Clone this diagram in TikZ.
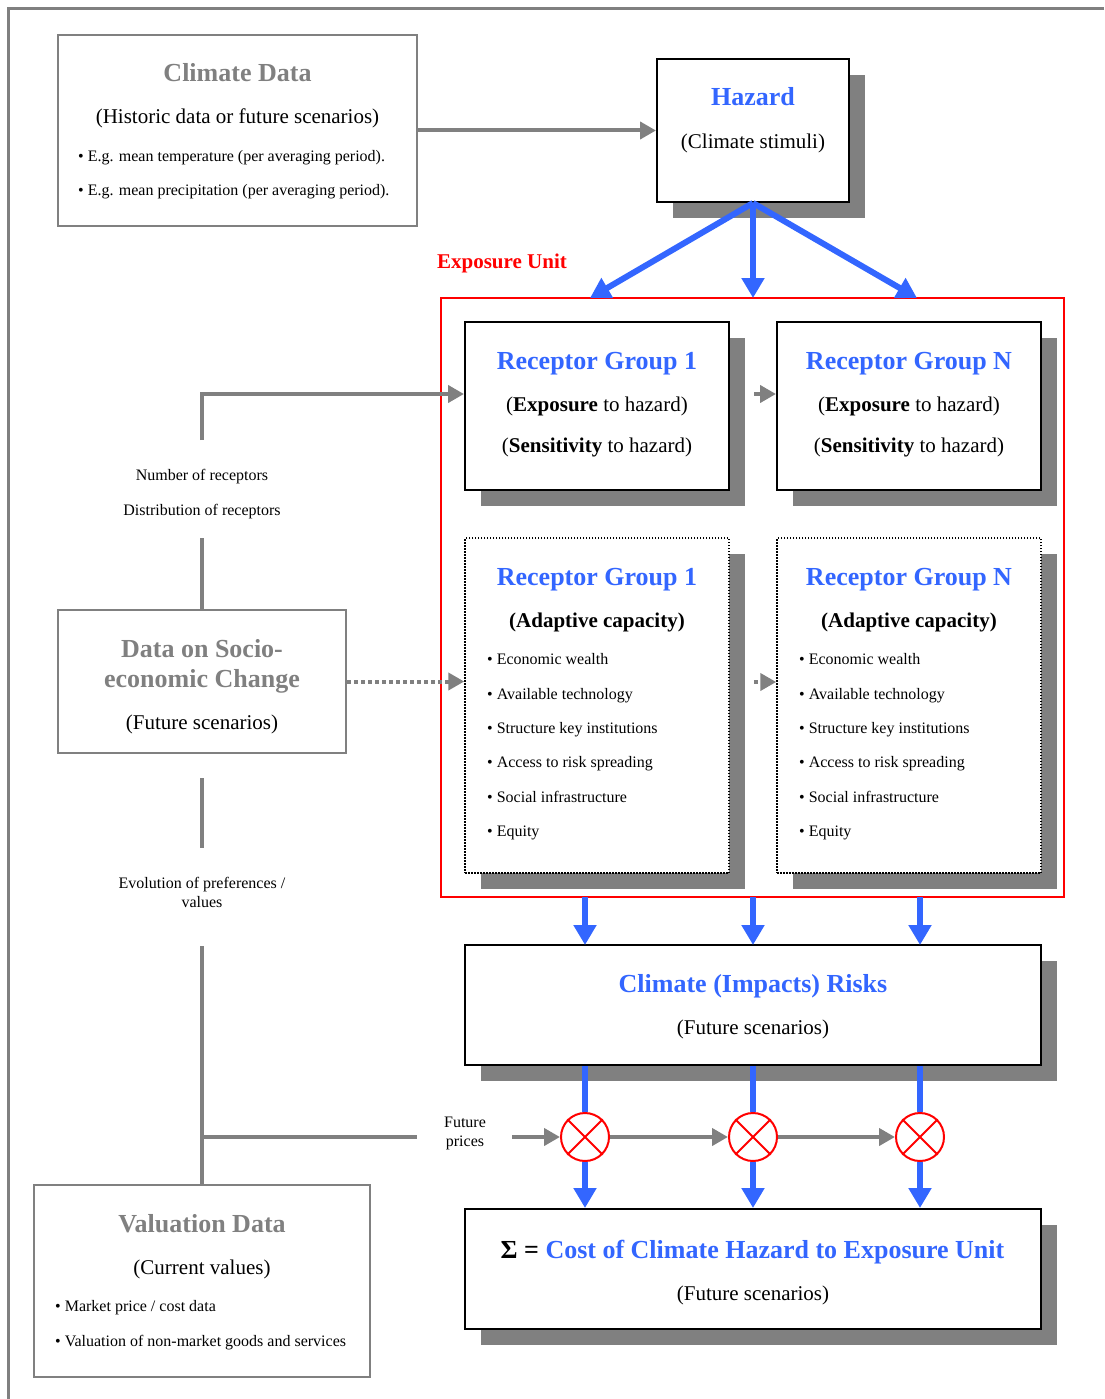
\documentclass[tikz,border=0pt]{standalone}
\usepackage{fontspec}
\setmainfont{Liberation Serif}
\usetikzlibrary{arrows.meta,shadows,calc}
\definecolor{hblue}{RGB}{51,102,255}
\definecolor{fgray}{RGB}{128,128,128}

\tikzset{
  databox/.style={draw=fgray, line width=2pt, fill=white, inner sep=0},
  mainbox/.style={draw=black, line width=2pt, fill=white, inner sep=0,
    drop shadow={shadow xshift=16pt, shadow yshift=-16pt, fill=fgray, opacity=1}},
  dotbox/.style={draw=black, line width=1.5pt, dash pattern=on 1.5pt off 1.5pt,
    fill=white, inner sep=0,
    drop shadow={shadow xshift=16pt, shadow yshift=-16pt, fill=fgray, opacity=1}},
  txt/.style={inner sep=0, text height=0.82em, text depth=0.16em},
  head/.style={txt, font=\fontsize{26}{30}\selectfont\bfseries, text=hblue},
  dhead/.style={txt, font=\fontsize{26}{30}\selectfont\bfseries, text=fgray},
  body/.style={txt, font=\fontsize{21}{25}\selectfont},
  small/.style={txt, font=\fontsize{16}{19}\selectfont},
  garrow/.style={draw=fgray, line width=4pt, -{Triangle[length=16pt,width=17pt]}},
  gdot/.style={garrow, dash pattern=on 4pt off 3pt},
  gline/.style={draw=fgray, line width=4pt},
  barrow/.style={draw=hblue, line width=6pt, -{Triangle[length=20pt,width=22pt]}},
  bline/.style={draw=hblue, line width=6pt},
  mult/.style={draw=red, line width=2pt, circle, minimum size=48pt, inner sep=0, fill=white},
}

\begin{document}
\begin{tikzpicture}[x=1pt,y=-1pt]
\useasboundingbox (0,0) rectangle (1104,1399);

% frame
\draw[fgray, line width=3pt] (1104,9) -- (8,9) -- (8,1399);

% ---- climate data
\node[databox, minimum width=359pt, minimum height=191pt] (clim) at (237.5,130.5) {};
\node[dhead] (climT) at (237.5,78) {Climate Data};
\node[body] (climS) at (237.5,120) {(Historic data or future scenarios)};
\node[small, anchor=west] (climB1) at (78,158) {• E.g. mean temperature (per averaging period).};
\node[small, anchor=west] (climB2) at (78,192) {• E.g. mean precipitation (per averaging period).};

% ---- hazard
\node[mainbox, minimum width=192pt, minimum height=143pt] (haz) at (753,130.5) {};
\node[head] (hazT) at (753,102) {Hazard};
\node[body] (hazS) at (753,145) {(Climate stimuli)};
\draw[garrow] (clim.east) -- (haz.west);

% ---- exposure unit
\node[draw=red, line width=1.5pt, minimum width=623pt, minimum height=599pt, inner sep=0] (expo) at (752.5,597.5) {};
\node[txt, font=\fontsize{21}{25}\selectfont\bfseries, text=red] (expoT) at (502,265) {Exposure Unit};

\coordinate (e1) at (590,298);
\coordinate (e2) at (753,298);
\coordinate (e3) at (917,298);
\draw[barrow] (haz.south) -- (e1);
\draw[barrow] (haz.south) -- (e2);
\draw[barrow] (haz.south) -- (e3);

% receptor groups: exposure and sensitivity
\node[mainbox, minimum width=264pt, minimum height=168pt] (rg1) at (597,406) {};
\node[head] at (597,366) {Receptor Group 1};
\node[body] at (597,408) {(\textbf{Exposure} to hazard)};
\node[body] at (597,449) {(\textbf{Sensitivity} to hazard)};

\node[mainbox, minimum width=264pt, minimum height=168pt] (rgN) at (909,406) {};
\node[head] at (909,366) {Receptor Group N};
\node[body] at (909,408) {(\textbf{Exposure} to hazard)};
\node[body] at (909,449) {(\textbf{Sensitivity} to hazard)};

\draw[garrow] ($(rg1.east)+(24,-12)$) -- ($(rgN.west)+(0,-12)$);

% receptor groups: adaptive capacity
\node[dotbox, minimum width=264pt, minimum height=335pt] (ad1) at (597,705.5) {};
\node[dotbox, minimum width=264pt, minimum height=335pt] (adN) at (909,705.5) {};
\foreach \c/\n/\lx in {597/1/487, 909/N/799}{
  \node[head] at (\c,582) {Receptor Group \n};
  \node[body] at (\c,624) {\textbf{(Adaptive capacity)}};
  \node[small, anchor=west] at (\lx,661) {• Economic wealth};
  \node[small, anchor=west] at (\lx,696) {• Available technology};
  \node[small, anchor=west] at (\lx,730) {• Structure key institutions};
  \node[small, anchor=west] at (\lx,764) {• Access to risk spreading};
  \node[small, anchor=west] at (\lx,799) {• Social infrastructure};
  \node[small, anchor=west] at (\lx,833) {• Equity};
}
\draw[gdot] ($(ad1.east)+(24,-23.5)$) -- ($(adN.west)+(0,-23.5)$);

% ---- socio-economic data
\node[databox, minimum width=288pt, minimum height=143pt] (socio) at (202,681.5) {};
\node[dhead] at (202,654) {Data on Socio-};
\node[dhead] at (202,684) {economic Change};
\node[body] at (202,726) {(Future scenarios)};
\draw[gdot] (socio.east) -- (socio.east -| ad1.west);

\node[small] (nrec) at (202,477) {Number of receptors};
\node[small] (drec) at (202,512) {Distribution of receptors};
\coordinate (recTop) at (202,440);
\coordinate (recBot) at (202,538);
\draw[garrow] (recTop) |- ($(rg1.west)+(0,-12)$);
\draw[gline] (socio.north) -- (recBot);

% ---- climate impact risks
\node[mainbox, minimum width=576pt, minimum height=120pt] (risk) at (753,1005) {};
\node[head] at (753,989) {Climate (Impacts) Risks};
\node[body] at (753,1031) {(Future scenarios)};
\foreach \x in {585,753,920}{
  \draw[barrow] (\x,897) -- (\x,945);
}

% ---- multiplication by future prices
\node[mult] (m1) at (585,1137) {};
\node[mult] (m2) at (753,1137) {};
\node[mult] (m3) at (920,1137) {};
\foreach \m in {m1,m2,m3}{
  \draw[red, line width=2pt] (\m.north west) -- (\m.south east) (\m.north east) -- (\m.south west);
  \draw[bline] (risk.south -| \m.north) -- (\m.north);
}
\draw[garrow] (m1.east) -- (m2.west);
\draw[garrow] (m2.east) -- (m3.west);

\node[small] at (465,1124) {Future};
\node[small] at (465,1143) {prices};
\coordinate (fpL) at (417,1137);
\coordinate (fpR) at (512,1137);
\draw[garrow] (fpR) -- (m1.west);

% ---- cost
\node[mainbox, minimum width=576pt, minimum height=120pt] (cost) at (753,1269) {};
\node[head] at (752.5,1255) {\textcolor{black}{Σ =} Cost of Climate Hazard to Exposure Unit};
\node[body] at (753,1297) {(Future scenarios)};
\foreach \m in {m1,m2,m3}{
  \draw[barrow] (\m.south) -- (\m.south |- cost.north);
}

% ---- valuation data
\node[databox, minimum width=336pt, minimum height=192pt] (val) at (202,1281) {};
\node[dhead] at (202,1229) {Valuation Data};
\node[body] at (202,1271) {(Current values)};
\node[small, anchor=west] at (55,1308) {• Market price / cost data};
\node[small, anchor=west] at (55,1343) {• Valuation of non-market goods and services};

% ---- left spine
\node[small] at (202,885) {Evolution of preferences /};
\node[small] at (202,904) {values};
\coordinate (spA) at (202,778);
\coordinate (spB) at (202,848);
\coordinate (spC) at (202,946);
\draw[gline] (spA) -- (spB);
\draw[gline] (spC) -- (val.north);
\draw[gline] (spC |- fpL) -- (fpL);
\end{tikzpicture}
\end{document}
